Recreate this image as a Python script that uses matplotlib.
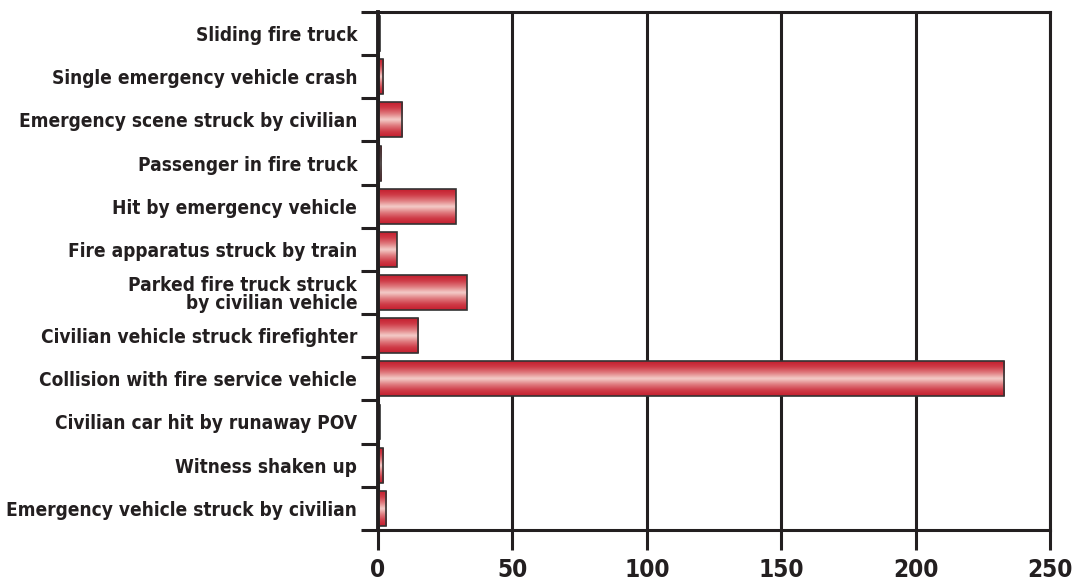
import numpy as np
import matplotlib
matplotlib.use("Agg")
import matplotlib.pyplot as plt
from matplotlib import font_manager
from matplotlib.colors import LinearSegmentedColormap
from matplotlib.patches import Rectangle

categories = [
    "Sliding fire truck",
    "Single emergency vehicle crash",
    "Emergency scene struck by civilian",
    "Passenger in fire truck",
    "Hit by emergency vehicle",
    "Fire apparatus struck by train",
    "Parked fire truck struck\nby civilian vehicle",
    "Civilian vehicle struck firefighter",
    "Collision with fire service vehicle",
    "Civilian car hit by runaway POV",
    "Witness shaken up",
    "Emergency vehicle struck by civilian",
]
values = [0.7, 2, 9, 1.2, 29, 7, 33, 15, 233, 0.7, 2, 3]
xticks = [0, 50, 100, 150, 200, 250]

# pick a condensed bold font if available
names = {f.name for f in font_manager.fontManager.ttflist}
fam = "DejaVu Sans"
stretch = "normal"
for cand in ["Liberation Sans Narrow", "DejaVu Sans Condensed"]:
    if cand in names:
        fam = cand
        break
else:
    stretch = "condensed"

ink = "#231f20"
fig = plt.figure(figsize=(10.74, 5.81), dpi=100)
ax = fig.add_axes([0.352, 0.088, 0.9777 - 0.352, 0.9793 - 0.088])

n = len(categories)
ypos = np.arange(n)
h = 0.81
cmap = LinearSegmentedColormap.from_list(
    "g", ["#c41e2e", "#cf3c48", "#e07c80", "#f4cdc9", "#e07c80", "#cf3c48", "#c41e2e"])
grad = np.linspace(0, 1, 256).reshape(-1, 1)

for y, v in zip(ypos, values):
    ax.imshow(grad, cmap=cmap, aspect="auto",
              extent=(0, v, y + h / 2, y - h / 2), zorder=3, interpolation="bicubic")
    ax.add_patch(Rectangle((0, y - h / 2), v, h, facecolor="none",
                           edgecolor="#333333", lw=1.2, zorder=4))
ax.set_xlim(0, 250)
ax.set_ylim(n - 0.5, -0.5)

ax.set_xticks(xticks)
ax.set_xticklabels([str(t) for t in xticks])
ax.xaxis.grid(True, color=ink, lw=2.2, zorder=1)
ax.set_axisbelow(True)

ax.set_yticks(ypos)
ax.set_yticklabels(categories)
ax.set_yticks(np.arange(n + 1) - 0.5, minor=True)
ax.tick_params(axis="y", which="major", length=0, pad=15)
ax.tick_params(axis="y", which="minor", length=12.5, width=2.2, color=ink, direction="out")
ax.tick_params(axis="x", which="major", length=14.5, width=2.2, color=ink, pad=6)

for lab in ax.get_yticklabels():
    lab.set_fontfamily(fam)
    lab.set_fontstretch(stretch)
    lab.set_fontweight("bold")
    lab.set_fontsize(13.7)
    lab.set_color(ink)
    lab.set_linespacing(0.95)
for lab in ax.get_xticklabels():
    lab.set_fontfamily(fam)
    lab.set_fontstretch(stretch)
    lab.set_fontweight("bold")
    lab.set_fontsize(17.5)
    lab.set_color(ink)

for side in ["top", "bottom", "right"]:
    ax.spines[side].set_color(ink)
    ax.spines[side].set_linewidth(2.2)
ax.spines["left"].set_color(ink)
ax.spines["left"].set_linewidth(2.8)
ax.spines["left"].set_zorder(5)

fig.savefig("out.png", dpi=100)
